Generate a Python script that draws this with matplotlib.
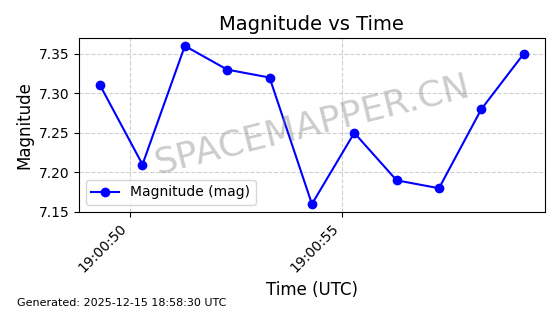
import datetime as dt
import matplotlib
matplotlib.use("Agg")
import matplotlib.pyplot as plt
import matplotlib.dates as mdates

# Datos
base = dt.datetime(2025, 12, 15, 19, 0, 49, 300000)
segundos = [0, 1, 2, 3, 4, 5, 6, 7, 8, 9, 10]
magnitud = [7.31, 7.21, 7.36, 7.33, 7.32, 7.16, 7.25, 7.19, 7.18, 7.28, 7.35]
tiempos = [base + dt.timedelta(seconds=s) for s in segundos]

fig, ax = plt.subplots(figsize=(5.6, 3.14), dpi=100)
fig.subplots_adjust(left=0.141, right=0.973, top=0.879, bottom=0.325)

ax.plot(tiempos, magnitud, marker='o', color='blue', label='Magnitude (mag)')

ax.set_title('Magnitude vs Time', fontsize=14)
ax.set_xlabel('Time (UTC)', fontsize=12)
ax.set_ylabel('Magnitude', fontsize=12)
ax.grid(True, linestyle='--', alpha=0.6)
ax.legend(loc='lower left')

ax.xaxis.set_major_locator(mdates.SecondLocator(bysecond=range(0, 60, 5)))
ax.xaxis.set_major_formatter(mdates.DateFormatter('%H:%M:%S'))
plt.setp(ax.get_xticklabels(), rotation=45, ha='right')

# marca de agua
ax.text(0.5, 0.5, 'SPACEMAPPER.CN', transform=ax.transAxes, fontsize=26,
        color='gray', alpha=0.4, ha='center', va='center', rotation=14)

fig.text(0.03, 0.025, 'Generated: 2025-12-15 18:58:30 UTC', fontsize=8)

fig.savefig('out.png', dpi=100)
